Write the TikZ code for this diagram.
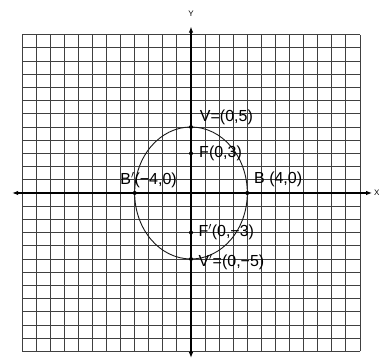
\documentclass[tikz,border=0pt]{standalone}
\usepackage{fontspec}
\setmainfont{Liberation Sans}
\usetikzlibrary{arrows.meta,positioning}

\begin{document}
\begin{tikzpicture}[x=14.08pt, y=13.2pt, every node/.style={font=\fontsize{16}{16}\selectfont, inner sep=1pt},
	dot/.style={circle, fill=black, inner sep=0pt, minimum size=4pt},
	axis/.style={line width=1.1pt, {Latex[length=6pt,width=4.5pt]}-{Latex[length=6pt,width=4.5pt]}},
	axlbl/.style={font=\fontsize{8}{8}\selectfont, inner sep=0pt}]
	\useasboundingbox (-13.565,-12.65) rectangle (13.352,14.62);
	\foreach \k in {-12,...,12} {
		\draw[black!75, line width=0.9pt] (\k,-12) -- (\k,12);
		\draw[black!75, line width=0.9pt] (-12,\k) -- (12,\k);
	}
	\coordinate (xl) at (-12.7,0);
	\coordinate (xr) at (12.86,0);
	\coordinate (yt) at (0,12.6);
	\coordinate (yb) at (0,-12.5);
	\draw[axis] (xl) -- (xr);
	\draw[axis] (yb) -- (yt);
	\node[axlbl] (ylab) at (0,13.6) {Y};
	\node[axlbl, anchor=west] (xlab) at (13.0,0) {X};
	\draw[black!90, line width=0.9pt] (0,0) ellipse [x radius=4, y radius=5];
	\node[dot] (V) at (0,5) {};
	\node[dot] (F) at (0,3) {};
	\node[dot] (B) at (4,0) {};
	\node[dot] (Bp) at (-4,0) {};
	\node[dot] (Fp) at (0,-3) {};
	\node[dot] (Vp) at (0,-5) {};
	\node[anchor=west] (Vlab) at (0.55,5.7) {V=(0,5)};
	\node[anchor=west] (Flab) at (0.5,3.0) {F(0,3)};
	\node[anchor=west] (Blab) at (4.4,1.0) {B (4,0)};
	\node[anchor=west] (Bplab) at (-5.1,1.0) {B$'$(−4,0)};
	\node[anchor=west] (Fplab) at (0.45,-2.95) {F$'$(0,−3)};
	\node[anchor=west] (Vplab) at (0.45,-5.25) {V$'$=(0,−5)};
\end{tikzpicture}
\end{document}
